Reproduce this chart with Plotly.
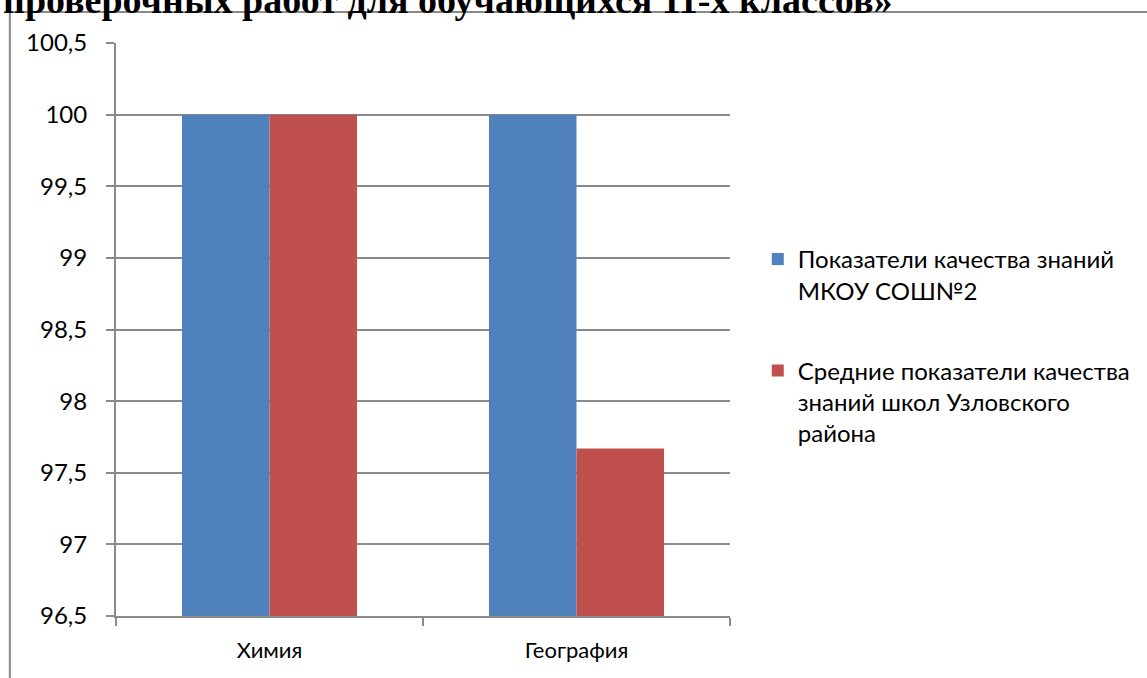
import plotly.graph_objects as go

categories = ["Химия", "География"]
school_values = [100, 100]
district_values = [100, 97.67]
series_names = [
    "Показатели качества знаний<br>МКОУ СОШ№2",
    "Средние показатели качества<br>знаний школ Узловского<br>района",
]
title_text = "проверочных работ для обучающихся 11-х классов»"

W, H = 1147, 678
L, R, T, B = 116, 412, 43, 62
pw, ph = W - L - R, H - T - B

def px2x(px):
    return (px - L) / pw

def py2y(py):
    return (H - B - py) / ph

font_fam = "Lato, 'Open Sans', sans-serif"
grey = "#8a8a8a"

fig = go.Figure()
fig.add_trace(go.Bar(x=categories, y=school_values, name=series_names[0],
                     marker=dict(color="#4F81BD", line=dict(width=0)),
                     legendgroup="a"))
fig.add_trace(go.Bar(x=categories, y=district_values, name=series_names[1],
                     marker=dict(color="#C0504D", line=dict(width=0)),
                     legendgroup="b"))

fig.update_layout(
    width=W, height=H,
    margin=dict(l=L, r=R, t=T, b=B, pad=0),
    paper_bgcolor="white", plot_bgcolor="white",
    separators=", ",
    barmode="group", bargap=0.43, bargroupgap=0,
    font=dict(family=font_fam, size=24, color="#000000"),
    legend=dict(x=px2x(763), y=py2y(237), xanchor="left", yanchor="top",
                xref="paper", yref="paper", valign="top",
                traceorder="grouped", tracegroupgap=46, itemwidth=30,
                font=dict(family=font_fam, size=24, color="#000000"),
                bgcolor="rgba(0,0,0,0)"),
    xaxis=dict(showline=True, linecolor=grey, linewidth=2,
               ticks="outside", tickson="boundaries", ticklen=8,
               tickcolor=grey, tickwidth=2, showgrid=False,
               ticklabelstandoff=14,
               tickfont=dict(family=font_fam, size=22)),
    yaxis=dict(range=[96.5, 100.5], dtick=0.5, tick0=96.5,
               showline=True, linecolor=grey, linewidth=2,
               ticks="outside", ticklen=8, tickcolor=grey, tickwidth=2,
               showgrid=True, gridcolor=grey, gridwidth=2,
               zeroline=False, ticklabelstandoff=14,
               tickfont=dict(family=font_fam, size=24)),
    shapes=[
        dict(type="line", xref="paper", yref="paper",
             x0=px2x(9), x1=px2x(1160), y0=py2y(12), y1=py2y(12),
             line=dict(color=grey, width=2)),
        dict(type="line", xref="paper", yref="paper",
             x0=px2x(9), x1=px2x(9), y0=py2y(12), y1=py2y(700),
             line=dict(color=grey, width=2)),
    ],
    annotations=[
        dict(text="<b>" + title_text + "</b>", xref="paper", yref="paper",
             x=px2x(0), y=py2y(23), xanchor="left", yanchor="bottom",
             showarrow=False,
             font=dict(family="'Liberation Serif', 'DejaVu Serif', serif",
                       size=38, color="#000000")),
    ],
)

fig.write_html("out.html",
               config={"displayModeBar": False},
               post_script="document.body.style.margin='0';document.body.style.overflow='hidden';")
